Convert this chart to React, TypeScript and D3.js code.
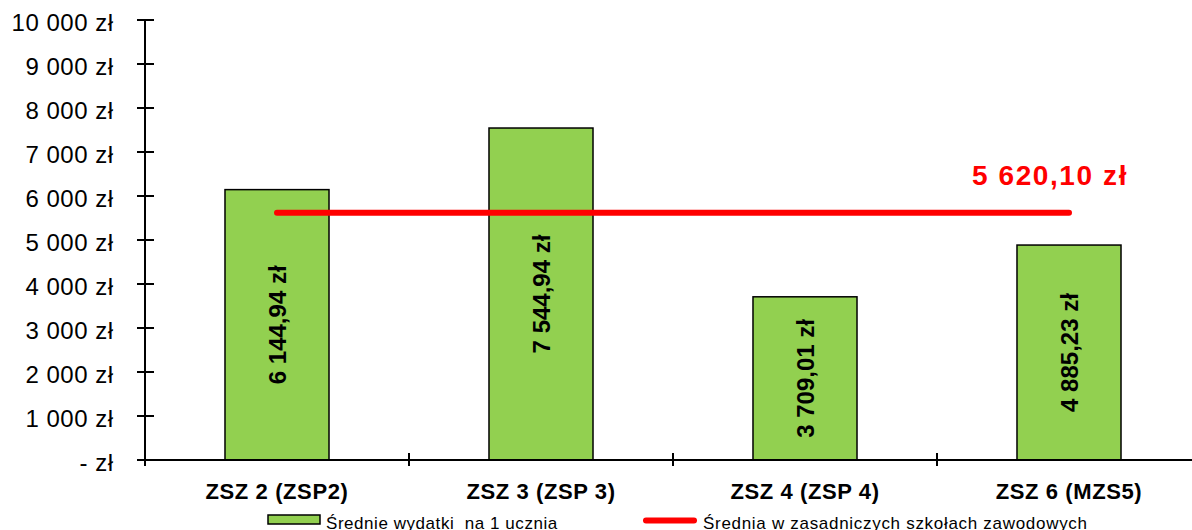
import React, { useEffect, useRef } from "react";
import * as d3 from "d3";

const categories = ["ZSZ 2 (ZSP2)", "ZSZ 3 (ZSP 3)", "ZSZ 4 (ZSP 4)", "ZSZ 6 (MZS5)"];
const values = [6144.94, 7544.94, 3709.01, 4885.23];
const averageValue = 5620.1;
const yTicks = [0, 1000, 2000, 3000, 4000, 5000, 6000, 7000, 8000, 9000, 10000];
const barLegend = "Średnie wydatki  na 1 ucznia";
const lineLegend = "Średnia w zasadniczych szkołach zawodowych";

const W = 1192;
const H = 530;
const FONT = "'Liberation Sans', Arial, sans-serif";

const fmtPL = (v: number, decimals: number) => {
  const s = d3.format(`,.${decimals}f`)(v);
  return s.replace(/,/g, " ").replace(".", ",") + " zł";
};

export default function App() {
  const ref = useRef<SVGSVGElement>(null);

  useEffect(() => {
    const svg = d3.select(ref.current);
    svg.selectAll("*").remove();

    const x = d3
      .scaleBand<string>()
      .domain(categories)
      .range([145, 1201])
      .paddingInner(0.606)
      .paddingOuter(0.303);
    const y = d3.scaleLinear().domain([0, 10000]).range([460, 20]);

    // bars
    svg
      .append("g")
      .selectAll("rect")
      .data(values)
      .join("rect")
      .attr("x", (_, i) => x(categories[i])!)
      .attr("y", (d) => y(d))
      .attr("width", x.bandwidth())
      .attr("height", (d) => y(0) - y(d))
      .attr("fill", "#92D050")
      .attr("stroke", "#000")
      .attr("stroke-width", 1.5);

    // bar labels
    svg
      .append("g")
      .selectAll("text")
      .data(values)
      .join("text")
      .attr("transform", (d, i) => {
        const cx = x(categories[i])! + x.bandwidth() / 2;
        const cy = (y(d) + y(0)) / 2;
        return `translate(${cx},${cy}) rotate(-90)`;
      })
      .attr("text-anchor", "middle")
      .attr("dy", "0.36em")
      .attr("font-family", FONT)
      .attr("font-weight", "bold")
      .attr("font-size", 24)
      .attr("fill", "#000")
      .text((d) => fmtPL(d, 2));

    // y axis
    const gy = svg.append("g");
    gy.append("line")
      .attr("x1", 145)
      .attr("x2", 145)
      .attr("y1", y(10000))
      .attr("y2", 466)
      .attr("stroke", "#000")
      .attr("stroke-width", 2);
    gy.selectAll("line.tick")
      .data(yTicks)
      .join("line")
      .attr("class", "tick")
      .attr("x1", 137)
      .attr("x2", 154)
      .attr("y1", (d) => y(d))
      .attr("y2", (d) => y(d))
      .attr("stroke", "#000")
      .attr("stroke-width", 2);
    gy.selectAll("text")
      .data(yTicks)
      .join("text")
      .attr("x", 113.5)
      .attr("y", (d) => y(d))
      .attr("dy", "0.44em")
      .attr("text-anchor", "end")
      .attr("font-family", FONT)
      .attr("font-size", 24)
      .attr("letter-spacing", 0.5)
      .attr("fill", "#000")
      .text((d) => (d === 0 ? "- zł" : fmtPL(d, 0)));

    // x axis
    const gx = svg.append("g");
    gx.append("line")
      .attr("x1", 137)
      .attr("x2", 1201)
      .attr("y1", y(0))
      .attr("y2", y(0))
      .attr("stroke", "#000")
      .attr("stroke-width", 2);
    const bounds = categories.map((c) => x(c)! - (x.step() - x.bandwidth()) / 2);
    gx.selectAll("line.tick")
      .data(bounds.slice(1))
      .join("line")
      .attr("class", "tick")
      .attr("x1", (d) => d)
      .attr("x2", (d) => d)
      .attr("y1", 453)
      .attr("y2", 466)
      .attr("stroke", "#000")
      .attr("stroke-width", 2);
    gx.selectAll("text")
      .data(categories)
      .join("text")
      .attr("x", (d) => x(d)! + x.bandwidth() / 2)
      .attr("y", 499)
      .attr("text-anchor", "middle")
      .attr("font-family", FONT)
      .attr("font-weight", "bold")
      .attr("font-size", 22)
      .attr("letter-spacing", 0.6)
      .attr("fill", "#000")
      .text((d) => d);

    // average line
    const x0 = x(categories[0])! + x.bandwidth() / 2;
    const x1 = x(categories[categories.length - 1])! + x.bandwidth() / 2;
    svg
      .append("line")
      .attr("x1", x0)
      .attr("x2", x1)
      .attr("y1", y(averageValue))
      .attr("y2", y(averageValue))
      .attr("stroke", "#FF0000")
      .attr("stroke-width", 6)
      .attr("stroke-linecap", "round");
    svg
      .append("text")
      .attr("x", 1050)
      .attr("y", 185)
      .attr("text-anchor", "middle")
      .attr("font-family", FONT)
      .attr("font-weight", "bold")
      .attr("font-size", 28)
      .attr("letter-spacing", 1.6)
      .attr("fill", "#FF0000")
      .text(fmtPL(averageValue, 2));

    // legend
    const lg = svg.append("g");
    lg.append("rect")
      .attr("x", 268)
      .attr("y", 515)
      .attr("width", 52)
      .attr("height", 9)
      .attr("fill", "#92D050")
      .attr("stroke", "#000")
      .attr("stroke-width", 1.5);
    lg.append("text")
      .attr("x", 326)
      .attr("y", 529)
      .attr("font-family", FONT)
      .attr("font-size", 17)
      .attr("letter-spacing", 0.55)
      .attr("fill", "#000")
      .attr("xml:space", "preserve")
      .style("white-space", "pre")
      .text(barLegend);
    lg.append("line")
      .attr("x1", 646)
      .attr("x2", 694)
      .attr("y1", 520.5)
      .attr("y2", 520.5)
      .attr("stroke", "#FF0000")
      .attr("stroke-width", 6)
      .attr("stroke-linecap", "round");
    lg.append("text")
      .attr("x", 703)
      .attr("y", 529)
      .attr("font-family", FONT)
      .attr("font-size", 17)
      .attr("letter-spacing", 0.7)
      .attr("fill", "#000")
      .text(lineLegend);
  }, []);

  return (
    <svg
      ref={ref}
      width={W}
      height={H}
      style={{ position: "absolute", left: 0, top: 0, background: "#fff" }}
    />
  );
}
